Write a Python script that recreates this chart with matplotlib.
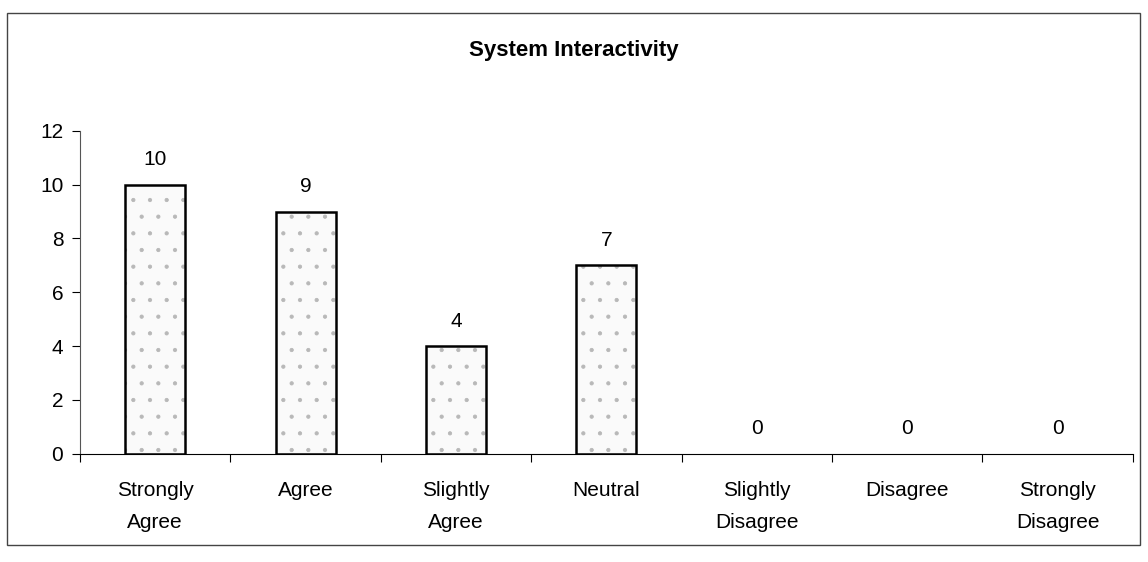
import matplotlib.pyplot as plt
import numpy as np

plt.rcParams['font.family'] = ['Liberation Sans', 'DejaVu Sans']
plt.rcParams['hatch.linewidth'] = 0.6

categories = ['Strongly\nAgree', 'Agree', 'Slightly\nAgree', 'Neutral',
              'Slightly\nDisagree', 'Disagree', 'Strongly\nDisagree']
counts = [10, 9, 4, 7, 0, 0, 0]

fig = plt.figure(figsize=(11.48, 5.62), dpi=100)
ax = fig.add_axes([0.0697, 0.193, 0.917, 0.574])

x = np.arange(len(categories))
# stippled fill first (grey dots), then the black outline on top
ax.bar(x, counts, width=0.4, facecolor='#fafafa', edgecolor='#b8b8b8',
       linewidth=0, hatch='.', zorder=2)
outline = ax.bar(x, counts, width=0.4, fill=False, edgecolor='black',
                 linewidth=1.8, zorder=3)
for b, v in zip(outline, counts):
    if v == 0:
        b.set_linewidth(0)

for xi, v in zip(x, counts):
    ax.annotate(str(v), (xi, v), xytext=(0, 11), textcoords='offset points',
                ha='center', va='bottom', fontsize=15)

ax.set_xlim(-0.5, len(categories) - 0.5)
ax.set_ylim(0, 12)
ax.set_yticks(np.arange(0, 13, 2))
ax.tick_params(axis='y', labelsize=15, length=6, direction='out', pad=6)

# category ticks between bars, labels centred under bars
ax.set_xticks(np.arange(-0.5, len(categories), 1))
ax.set_xticklabels([])
ax.set_xticks(x, minor=True)
ax.set_xticklabels(categories, minor=True, fontsize=15, linespacing=1.85)
ax.tick_params(axis='x', which='major', length=6, direction='out')
ax.tick_params(axis='x', which='minor', length=0, pad=20)

ax.spines['top'].set_visible(False)
ax.spines['right'].set_visible(False)
ax.spines['left'].set_color('#555555')

fig.text(0.5, 0.91, 'System Interactivity', ha='center', va='center',
         fontsize=16, fontweight='bold')

# outer chart border
fig.patches.append(plt.Rectangle((0.006, 0.03), 0.987, 0.947, transform=fig.transFigure,
                                 fill=False, edgecolor='#444444', linewidth=1))

fig.savefig('out.png', dpi=100)
